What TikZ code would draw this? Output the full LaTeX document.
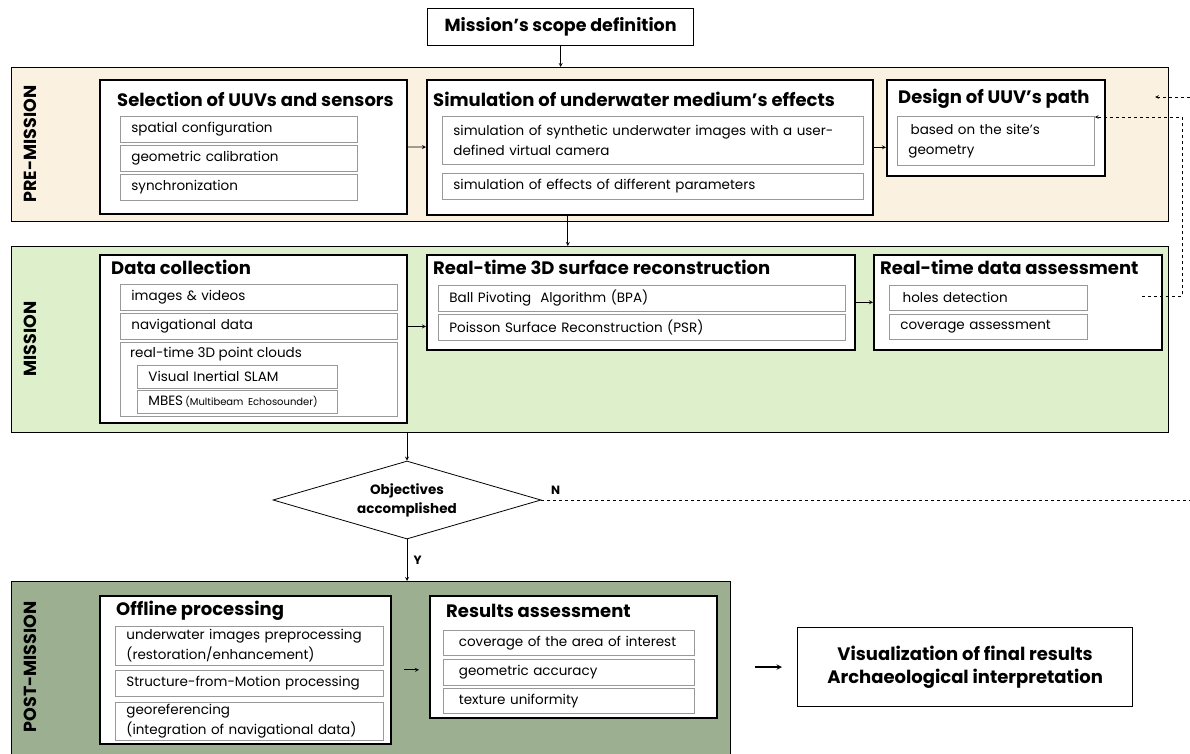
\documentclass[tikz,border=0pt]{standalone}
\usepackage{fontspec}
\setmainfont{Poppins}
\usetikzlibrary{arrows,positioning,shapes.geometric}

\definecolor{precol}{HTML}{FAF1E1}
\definecolor{miscol}{HTML}{DDEFCB}
\definecolor{postcol}{HTML}{9CAF91}

\tikzset{
  band/.style={draw, line width=1.2pt, anchor=north west, inner sep=0pt},
  stage/.style={draw, fill=white, line width=1.6pt, anchor=north west, inner sep=0pt},
  head/.style={anchor=west, inner sep=0pt, font=\fontsize{18}{20}\selectfont\bfseries},
  item/.style={draw=black!40, line width=0.8pt, fill=white, anchor=north west, align=left,
    inner xsep=11pt, inner ysep=1pt, font=\fontsize{13.5}{20}\selectfont},
  phase/.style={rotate=90, font=\fontsize{17.5}{20}\selectfont\bfseries},
  flow/.style={-stealth, line width=0.8pt},
  loop/.style={-stealth, dashed, line width=0.7pt}
}

% name, x, y, width, height, text
\newcommand{\mkitem}[6]{%
  \pgfmathsetmacro{\itemtw}{#4-22}%
  \node[item, text width=\itemtw pt, minimum height=#5pt] (#1) at (#2,#3) {#6};}

\begin{document}
\begin{tikzpicture}[x=1pt,y=-1pt]
\useasboundingbox (0,0) rectangle (1190,753);

% phases
\node[band, fill=precol, minimum width=1157pt, minimum height=154pt] (pre) at (11,67) {};
\node[band, fill=miscol, minimum width=1157pt, minimum height=186pt] (mis) at (11,246) {};
\node[band, fill=postcol, minimum width=719pt, minimum height=180pt] (post) at (11,581) {};
\node[phase] (preL) at (30,144) {PRE-MISSION};
\node[phase] (misL) at (30,339) {MISSION};
\node[phase] (postL) at (30,667) {POST-MISSION};

\node[stage, line width=1.3pt, minimum width=266pt, minimum height=37pt] (scope) at (427,8) {};
\node[font=\fontsize{17.5}{20}\selectfont\bfseries] (scopeT) at (scope.center) {Mission’s scope definition};

% pre-mission
\node[stage, minimum width=307pt, minimum height=134pt] (sel) at (99,79) {};
\node[head] (selT) at (117,99) {Selection of UUVs and sensors};
\mkitem{spat}{120}{116}{237}{26}{spatial configuration}
\mkitem{geo}{120}{145}{237}{26}{geometric calibration}
\mkitem{sync}{120}{174}{237}{26}{synchronization}

\node[stage, minimum width=446pt, minimum height=135pt] (sim) at (426,79) {};
\node[head] (simT) at (433,99) {Simulation of underwater medium’s effects};
\mkitem{synth}{442}{116}{421}{48}{simulation of synthetic underwater images with a user-\\defined virtual camera}
\mkitem{param}{442}{173}{421}{26}{simulation of effects of different parameters}

\node[stage, minimum width=218pt, minimum height=96pt] (des) at (886,79) {};
\node[head] (desT) at (898,99) {Design of UUV’s path};
\mkitem{site}{897}{116}{197}{49}{\,based on the site’s\\geometry}

% mission
\node[stage, minimum width=307pt, minimum height=168pt] (dc) at (99,254) {};
\node[head] (dcT) at (111,267) {Data collection};
\mkitem{img}{120}{284}{277}{26}{images \& videos}
\mkitem{nav}{120}{313}{277}{26}{navigational data}
\mkitem{pc}{120}{342}{277}{74}{}
\node[anchor=west, inner sep=0pt, font=\fontsize{13.5}{15}\selectfont] (pcT) at (130,354) {real-time 3D point clouds};
\mkitem{slam}{137}{365}{200}{23}{Visual Inertial SLAM}
\mkitem{mbes}{137}{390}{200}{23}{MBES\,{\fontsize{10}{11}\selectfont(Multibeam Echosounder)}}

\node[stage, minimum width=428pt, minimum height=95pt] (rec) at (426,254) {};
\node[head] (recT) at (433,267) {Real-time 3D surface reconstruction};
\mkitem{bpa}{438}{285}{407}{26}{Ball Pivoting\ \ Algorithm (BPA)}
\mkitem{psr}{438}{314}{407}{26}{Poisson Surface Reconstruction (PSR)}

\node[stage, minimum width=288pt, minimum height=95pt] (ass) at (873,254) {};
\node[head] (assT) at (880,267) {Real-time data assessment};
\mkitem{holes}{889}{285}{198}{25}{\,holes detection}
\mkitem{cov}{889}{314}{198}{25}{coverage assessment}

% decision
\node[diamond, draw, line width=0.8pt, aspect=3.44, minimum width=268pt, minimum height=78pt, inner sep=0pt,
  align=center, font=\fontsize{13.5}{19}\selectfont\bfseries] (obj) at (407,500) {Objectives\\accomplished};
\coordinate (nEnd) at (1190,500);
\coordinate (backIn) at (1190,97);
\coordinate (backEnd) at (1155,97);
\coordinate (loopA) at (1142,296);
\coordinate (loopX) at (1182,296);

% post-mission
\node[stage, minimum width=291pt, minimum height=148pt] (off) at (99,595) {};
\node[head] (offT) at (116,611) {Offline processing};
\mkitem{pre1}{115}{626}{268}{39}{underwater images preprocessing\\(restoration/enhancement)}
\mkitem{sfm}{115}{670}{268}{26}{Structure-from-Motion processing}
\mkitem{georef}{115}{702}{268}{38}{georeferencing\\(integration of navigational data)}

\node[stage, minimum width=287pt, minimum height=122pt] (res) at (429,595) {};
\node[head] (resT) at (446,611) {Results assessment};
\mkitem{area}{443}{630}{251}{25}{\ coverage of the area of interest}
\mkitem{acc}{443}{659}{251}{26}{\ geometric accuracy}
\mkitem{tex}{443}{688}{251}{25}{\ texture uniformity}

\node[stage, line width=1.2pt, minimum width=335pt, minimum height=79pt] (vis) at (797,627) {};
\node[align=center, font=\fontsize{18}{23}\selectfont\bfseries] (visT) at (vis.center) {Visualization of final results\\Archaeological interpretation};

% connectors
\path[flow] (scope) edge (scope |- pre.north);
\path[flow] (sel) edge (sim);
\path[flow] (sim.east) edge (sim.east -| des.west);
\path[flow] ([xshift=-82pt]sim.south) edge ([xshift=-82pt]sim.south |- mis.north);
\path[flow] (dc.east |- nav) edge (rec.west |- nav);
\path[flow] (rec) edge (ass);
\path[flow] (obj.north |- mis.south) edge (obj);
\path[flow] (obj) edge node[right=3pt, font=\fontsize{12}{14}\selectfont\bfseries] {Y} (obj.south |- post.north);
\draw[dashed, line width=0.7pt] (obj.east) -- node[pos=0, above right=2pt and 6pt, font=\fontsize{12}{14}\selectfont\bfseries] {N} (nEnd);
\draw[loop] (backIn) -- (backEnd);
\draw[loop] (loopA) -- (loopX) |- ([yshift=-1pt]site.north east);
\path[flow] ([xshift=12pt]off.east) edge ([xshift=-10pt]off.east -| res.west);
\path[-stealth, line width=1.4pt] ([xshift=-42pt]vis.west) edge ([xshift=-15pt]vis.west);
\end{tikzpicture}
\end{document}
